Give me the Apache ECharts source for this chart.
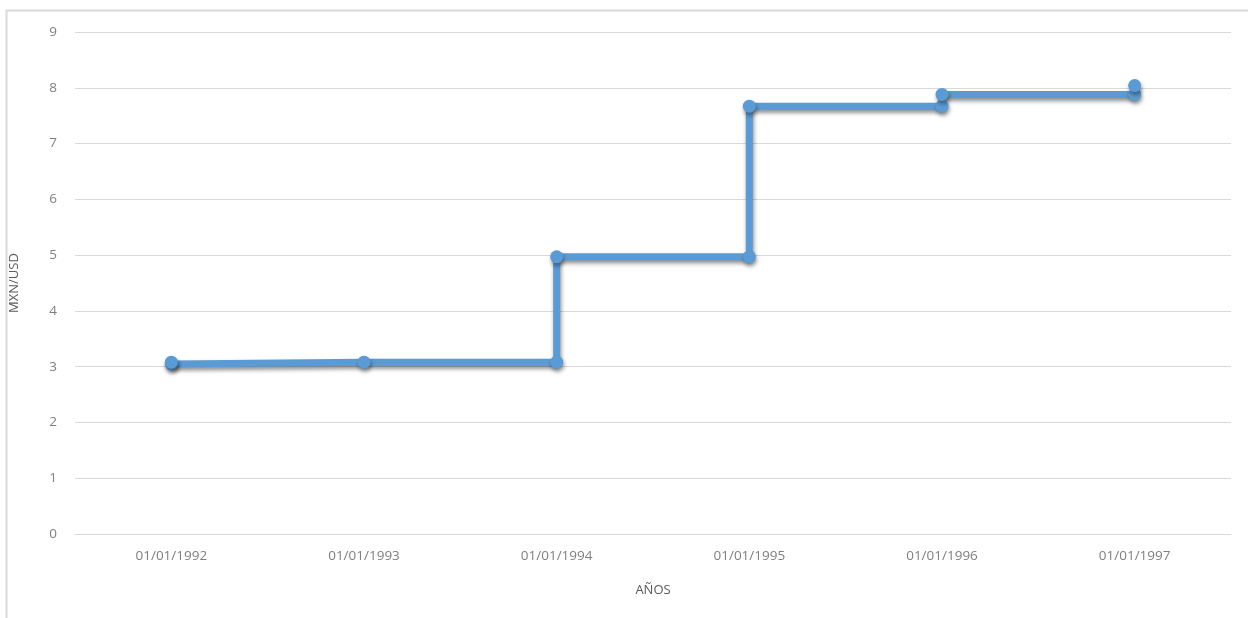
<!DOCTYPE html>
<html>
<head>
<meta charset="utf-8">
<script src="https://cdn.jsdelivr.net/npm/echarts@6/dist/echarts.min.js"></script>
<style>
  html, body { margin: 0; padding: 0; background: #fff; }
  #chart { width: 1248px; height: 618px; }
</style>
</head>
<body>
<div id="chart"></div>
<script>
var categories = ['01/01/1992', '01/01/1993', '01/01/1994', '01/01/1995', '01/01/1996', '01/01/1997'];
// step points: category index and MXN/USD value
var pointIndex = [0, 0, 1, 2, 2, 3, 3, 4, 4, 5, 5];
var pointValue = [3.05, 3.08, 3.08, 3.08, 4.97, 4.97, 7.67, 7.67, 7.88, 7.88, 8.04];
var yTicks = [0, 1, 2, 3, 4, 5, 6, 7, 8, 9];

var chart = echarts.init(document.getElementById('chart'));
var font = "'Open Sans', sans-serif";
chart.setOption({
  animation: false,
  textStyle: { fontFamily: font },
  graphic: [{
    type: 'rect',
    shape: { x: 6.5, y: 10.5, width: 1260, height: 640 },
    style: { fill: 'none', stroke: '#d9d9d9', lineWidth: 2 },
    silent: true
  }],
  grid: { left: 75, right: 17, top: 32, bottom: 84, containLabel: false },
  xAxis: {
    type: 'category',
    data: categories,
    boundaryGap: true,
    name: 'AÑOS',
    nameLocation: 'middle',
    nameGap: 50,
    nameTextStyle: { color: '#595959', fontSize: 13, fontFamily: font },
    axisLine: { show: true, lineStyle: { color: '#d9d9d9', width: 1 } },
    axisTick: { show: false },
    axisLabel: { color: '#7f7f7f', fontSize: 13.5, margin: 15, fontFamily: font },
    splitLine: { show: false }
  },
  yAxis: {
    type: 'value',
    min: yTicks[0],
    max: yTicks[yTicks.length - 1],
    interval: 1,
    name: 'MXN/USD',
    nameLocation: 'middle',
    nameGap: 54,
    nameRotate: 90,
    nameTextStyle: { color: '#595959', fontSize: 13, fontFamily: font },
    axisLine: { show: false },
    axisTick: { show: false },
    axisLabel: { color: '#7f7f7f', fontSize: 13.5, margin: 18, fontFamily: font },
    splitLine: { lineStyle: { color: '#d9d9d9', width: 1 } }
  },
  series: [{
    type: 'line',
    data: pointIndex.map(function (x, i) { return [x, pointValue[i]]; }),
    symbol: 'circle',
    symbolSize: 13,
    showAllSymbol: true,
    lineStyle: {
      color: '#5b9bd5', width: 7,
      shadowColor: 'rgba(0,0,0,0.45)', shadowBlur: 4, shadowOffsetY: 3, shadowOffsetX: 1
    },
    itemStyle: {
      color: '#5b9bd5',
      shadowColor: 'rgba(0,0,0,0.4)', shadowBlur: 4, shadowOffsetY: 3, shadowOffsetX: 1
    }
  }]
});
</script>
</body>
</html>
